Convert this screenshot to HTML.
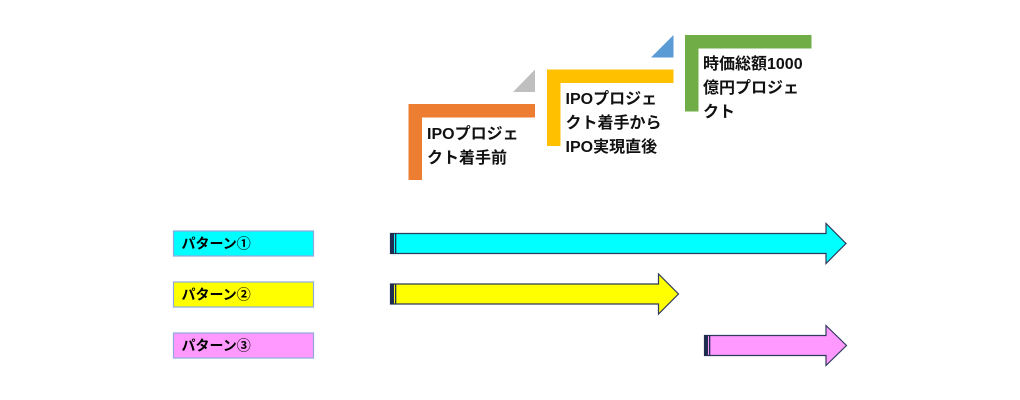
<!DOCTYPE html>
<html><head><meta charset="utf-8"><style>
html,body{margin:0;padding:0;background:#fff;}
svg{display:block;}
text{font-family:"Liberation Sans","Noto Sans CJK JP",sans-serif;}
.lab{font-family:"Noto Sans CJK JP","Liberation Sans",sans-serif;}
</style></head><body>
<svg width="1020" height="400" viewBox="0 0 1020 400" xmlns="http://www.w3.org/2000/svg">
<rect width="1020" height="400" fill="#fff"/>
<!-- stairs -->
<polygon points="408.5,104 535,104 535,117.5 422,117.5 422,180 408.5,180" fill="#ED7D31"/>
<polygon points="513,92 535,92 535,69.5" fill="#BFBFBF"/>
<polygon points="547,69.5 673.5,69.5 673.5,83 560.5,83 560.5,146 547,146" fill="#FFC000"/>
<polygon points="651,57.5 673.5,57.5 673.5,35" fill="#5B9BD5"/>
<polygon points="685,35 811.5,35 811.5,48.5 698.5,48.5 698.5,111.5 685,111.5" fill="#70AD47"/>
<g font-size="16" fill="#111" font-weight="bold">
<text x="427" y="139">IPOプロジェ</text>
<text x="427" y="163">クト着手前</text>
<text x="565.5" y="104">IPOプロジェ</text>
<text x="565.5" y="128">クト着手から</text>
<text x="565.5" y="152">IPO実現直後</text>
<text x="703" y="69">時価総額1000</text>
<text x="703" y="93">億円プロジェ</text>
<text x="703" y="117">クト</text>
</g>
<!-- labels -->
<rect x="173.5" y="231" width="140" height="25" fill="#00FFFF" stroke="#8EA9DB" stroke-width="1.2"/>
<rect x="173.5" y="282" width="140" height="25" fill="#FFFF00" stroke="#8EA9DB" stroke-width="1.2"/>
<rect x="173.5" y="333" width="140" height="25" fill="#FF99FF" stroke="#8EA9DB" stroke-width="1.2"/>
<g font-size="14" font-weight="bold" fill="#000" class="lab">
<text class="lab" x="181.5" y="248.5">パターン①</text>
<text class="lab" x="181.5" y="299.5">パターン②</text>
<text class="lab" x="181.5" y="350.5">パターン③</text>
</g>
<!-- arrows -->
<g stroke="#2F3B5C" stroke-width="1.2" stroke-linejoin="miter">
<polygon points="390.5,233.5 826,233.5 826,223.5 846,243.5 826,263.5 826,253.5 390.5,253.5" fill="#00FFFF"/>
<polygon points="390.5,284 658.5,284 658.5,274 678.5,294 658.5,314 658.5,304 390.5,304" fill="#FFFF00"/>
<polygon points="704.5,335.5 826,335.5 826,325.5 846.5,345.5 826,365.5 826,355.5 704.5,355.5" fill="#FF99FF"/>
</g>
<g fill="#1F2E50">
<rect x="390" y="233" width="4" height="21"/>
<rect x="395" y="233" width="1.3" height="21"/>
<rect x="390" y="283.5" width="4" height="21"/>
<rect x="395" y="283.5" width="1.3" height="21"/>
<rect x="704" y="335" width="4" height="21"/>
<rect x="709" y="335" width="1.3" height="21"/>
</g>
</svg>
</body></html>
